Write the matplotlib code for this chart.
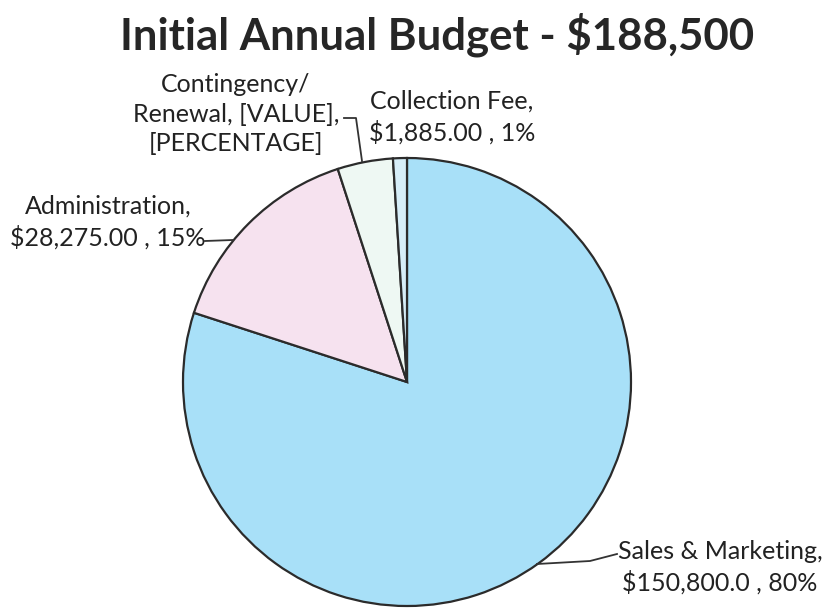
import matplotlib.pyplot as plt

# 予算データ
categories = ["Sales & Marketing", "Administration", "Contingency/\nRenewal", "Collection Fee"]
values = [150800.0, 28275.0, 7540.0, 1885.0]
label_texts = [
    "Sales & Marketing,\n$150,800.0 , 80%",
    "Administration,\n$28,275.00 , 15%",
    "Contingency/\nRenewal, [VALUE],\n[PERCENTAGE]",
    "Collection Fee,\n$1,885.00 , 1%",
]
colors = ["#a8e0f8", "#f6e2ef", "#eef8f3", "#d6eef8"]
title = "Initial Annual Budget - $188,500"

W, H = 829, 610
cx, cy, R = 407, 382, 224

fig = plt.figure(figsize=(W / 100, H / 100), dpi=100)
ax = fig.add_axes([0, 0, 1, 1])

ax.pie(values, colors=colors, startangle=90, counterclock=False, radius=1,
       wedgeprops=dict(edgecolor="#2b2b2b", linewidth=1.6))

# pie()が範囲を上書きするので後で設定
ax.set_xlim(-cx / R, (W - cx) / R)
ax.set_ylim(-(H - cy) / R, cy / R)
ax.set_aspect("auto")
ax.axis("off")


# ピクセル座標 -> データ座標
def p(x, y):
    return ((x - cx) / R, (cy - y) / R)


font = ["Lato", "DejaVu Sans"]
fs = 18
ls = 1.35

# ラベル
ax.text(*p(720, 567), label_texts[0], ha="center", va="center", fontsize=fs,
        family=font, color="#222222", linespacing=ls)
ax.text(*p(108, 222), label_texts[1], ha="center", va="center", fontsize=fs,
        family=font, color="#222222", linespacing=ls)
ax.text(*p(236, 114), label_texts[2], ha="center", va="center", fontsize=fs,
        family=font, color="#222222", linespacing=ls)
ax.text(*p(452, 117), label_texts[3], ha="center", va="center", fontsize=fs,
        family=font, color="#222222", linespacing=ls)

# 引き出し線
lc = "#333333"
ax.plot(*zip(p(205, 241), p(233, 240)), color=lc, lw=1.3)
ax.plot(*zip(p(344, 118), p(356, 118), p(362, 161)), color=lc, lw=1.3)
ax.plot(*zip(p(537, 564), p(590, 561), p(617, 554)), color=lc, lw=1.3)

# タイトル
ax.text(*p(437, 35), title, ha="center", va="center", fontsize=31.5,
        fontweight="bold", family=font, color="#262626")

fig.savefig("out.png", dpi=100)
